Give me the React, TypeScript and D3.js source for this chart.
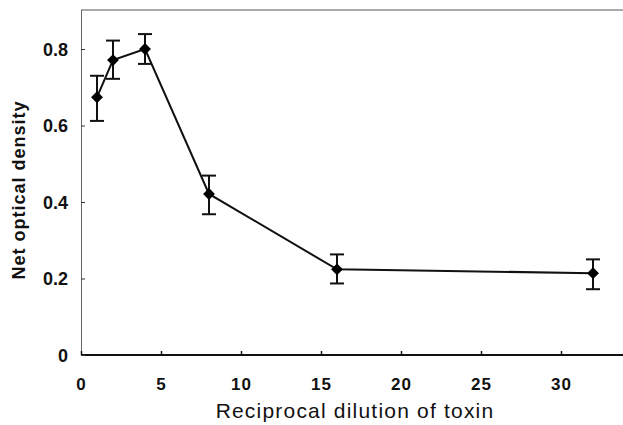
import React, { useEffect, useRef } from 'react';
import * as d3 from 'd3';

const dilution = [1, 2, 4, 8, 16, 32];
const density = [0.674, 0.771, 0.8, 0.421, 0.224, 0.214];
const errUpper = [0.73, 0.822, 0.839, 0.469, 0.263, 0.25];
const errLower = [0.612, 0.722, 0.761, 0.368, 0.187, 0.172];
const xTicks = [0, 5, 10, 15, 20, 25, 30];
const yTicks = [0, 0.2, 0.4, 0.6, 0.8];

const App = () => {
  const ref = useRef<SVGSVGElement>(null);

  useEffect(() => {
    const svg = d3.select(ref.current);
    svg.selectAll('*').remove();

    const x = d3.scaleLinear().domain([0, 34]).range([81, 625]);
    const y = d3.scaleLinear().domain([0, 0.9]).range([355, 10.75]);
    const font = 'Arial, "Liberation Sans", sans-serif';

    // frame
    svg.append('line')
      .attr('x1', 81).attr('x2', 623).attr('y1', 10).attr('y2', 10)
      .attr('stroke', '#555').attr('stroke-width', 1);
    svg.append('line')
      .attr('x1', 81.5).attr('x2', 81.5).attr('y1', 10).attr('y2', 355)
      .attr('stroke', '#666').attr('stroke-width', 1);

    // bottom axis
    const xAxis = svg.append('g').attr('transform', 'translate(0,355)')
      .call(d3.axisBottom(x).tickValues(xTicks).tickSize(-4).tickFormat(d3.format('d')));
    xAxis.select('.domain').attr('stroke', '#111').attr('stroke-width', 2)
      .attr('d', `M81,0H623`);
    xAxis.selectAll('.tick line').attr('stroke', '#111').attr('stroke-width', 1.5);
    xAxis.selectAll('.tick text').attr('dy', 0).attr('y', 35)
      .attr('font-family', font).attr('font-size', 17).attr('font-weight', 'bold')
      .attr('letter-spacing', 1).attr('fill', '#111');

    // left axis
    const yAxis = svg.append('g').attr('transform', 'translate(81,0)')
      .call(d3.axisLeft(y).tickValues(yTicks).tickSize(-4).tickFormat(d => d === 0 ? '0' : d3.format('.1f')(d as number)));
    yAxis.select('.domain').remove();
    yAxis.selectAll('.tick line').attr('stroke', '#333').attr('stroke-width', 1);
    yAxis.selectAll('.tick text').attr('x', -13).attr('dy', '0.35em')
      .attr('font-family', font).attr('font-size', 18).attr('font-weight', 'bold').attr('fill', '#111');

    // titles
    svg.append('text')
      .attr('x', 355).attr('y', 418).attr('text-anchor', 'middle')
      .attr('font-family', font).attr('font-size', 21).attr('letter-spacing', 1.2).attr('fill', '#111')
      .text('Reciprocal dilution of toxin');
    svg.append('text')
      .attr('transform', 'translate(25,190) rotate(-90)').attr('text-anchor', 'middle')
      .attr('font-family', font).attr('font-size', 18).attr('font-weight', 'bold')
      .attr('letter-spacing', 1).attr('fill', '#111')
      .text('Net optical density');

    const pts = dilution.map((d, i) => ({ d, v: density[i], hi: errUpper[i], lo: errLower[i] }));

    // line
    svg.append('path').datum(pts)
      .attr('fill', 'none').attr('stroke', '#111').attr('stroke-width', 2)
      .attr('d', d3.line<any>().x(p => x(p.d)).y(p => y(p.v)));

    // error bars
    const eb = svg.append('g').attr('stroke', '#111').attr('stroke-width', 2);
    pts.forEach(p => {
      eb.append('line').attr('x1', x(p.d)).attr('x2', x(p.d)).attr('y1', y(p.hi)).attr('y2', y(p.lo));
      eb.append('line').attr('x1', x(p.d) - 7).attr('x2', x(p.d) + 7).attr('y1', y(p.hi)).attr('y2', y(p.hi));
      eb.append('line').attr('x1', x(p.d) - 7).attr('x2', x(p.d) + 7).attr('y1', y(p.lo)).attr('y2', y(p.lo));
    });

    // diamond markers
    svg.append('g').selectAll('path').data(pts).enter().append('path')
      .attr('transform', p => `translate(${x(p.d)},${y(p.v)})`)
      .attr('d', d3.symbol(d3.symbolDiamond2, 90)())
      .attr('fill', '#000');
  }, []);

  return (
    <svg ref={ref} width={623} height={425}
      style={{ position: 'absolute', left: 0, top: 0, background: '#fff' }} />
  );
};

export default App;
